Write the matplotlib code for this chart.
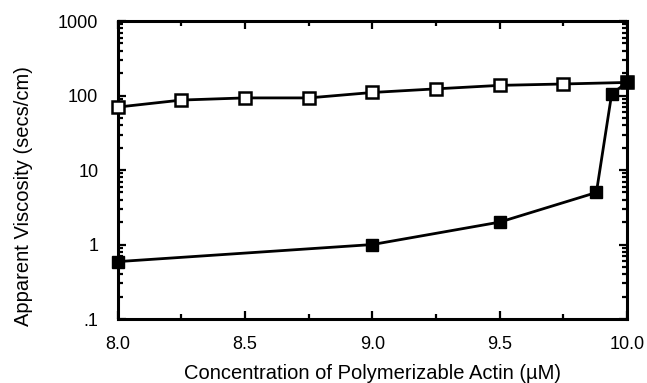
import matplotlib
matplotlib.use('Agg')
import matplotlib.pyplot as plt
from matplotlib.ticker import FixedLocator, LogLocator, NullFormatter

plt.rcParams['font.family'] = ['Liberation Sans', 'DejaVu Sans']

# open squares
conc_open = [8.0, 8.25, 8.5, 8.75, 9.0, 9.25, 9.5, 9.75, 10.0]
visc_open = [70, 87, 93, 93, 110, 123, 137, 143, 150]

# filled squares
conc_filled = [8.0, 9.0, 9.5, 9.88, 9.94, 10.0]
visc_filled = [0.59, 1.0, 2.0, 5.0, 105, 150]

x_ticks = [8.0, 8.5, 9.0, 9.5, 10.0]
x_labels = ['8.0', '8.5', '9.0', '9.5', '10.0']
y_ticks = [0.1, 1, 10, 100, 1000]
y_labels = ['.1', '1', '10', '100', '1000']

fig = plt.figure(figsize=(6.47, 3.83), dpi=100)
ax = fig.add_axes([0.182, 0.167, 0.787, 0.778])

ax.plot(conc_open, visc_open, color='black', lw=2, marker='s', ms=8,
        mfc='white', mec='black', mew=1.8, clip_on=False, zorder=3)
ax.plot(conc_filled, visc_filled, color='black', lw=2, marker='s', ms=9,
        mfc='black', mec='black', clip_on=False, zorder=4)

ax.set_yscale('log')
ax.set_xlim(8.0, 10.0)
ax.set_ylim(0.1, 1000)

ax.xaxis.set_major_locator(FixedLocator(x_ticks))
ax.set_xticklabels(x_labels)
ax.xaxis.set_minor_locator(FixedLocator([8.25, 8.75, 9.25, 9.75]))
ax.yaxis.set_major_locator(FixedLocator(y_ticks))
ax.set_yticklabels(y_labels)
ax.yaxis.set_minor_locator(LogLocator(base=10, subs=range(2, 10)))
ax.yaxis.set_minor_formatter(NullFormatter())

ax.tick_params(which='both', direction='in', top=True, right=True,
               width=1.6, labelsize=13)
ax.tick_params(axis='x', which='both', pad=12)
ax.tick_params(axis='y', which='both', pad=14)
ax.tick_params(which='major', length=6)
ax.tick_params(which='minor', length=3.5)

for s in ax.spines.values():
    s.set_linewidth(2.2)

ax.set_xlabel('Concentration of Polymerizable Actin (\u00b5M)', fontsize=14.5)
ax.set_ylabel('Apparent Viscosity (secs/cm)', fontsize=14.5)
ax.xaxis.set_label_coords(0.5, -0.152)
ax.yaxis.set_label_coords(-0.166, 0.413)

fig.savefig('out.png', dpi=100)
